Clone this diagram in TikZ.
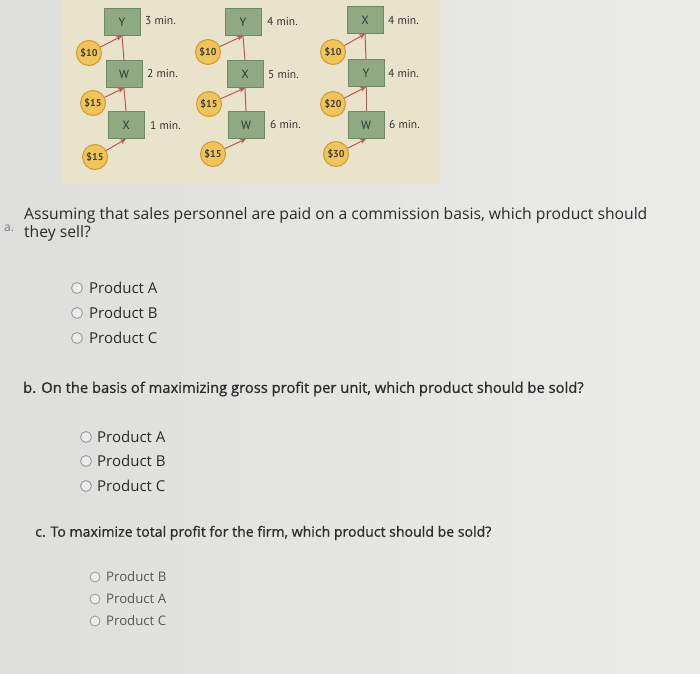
\documentclass[tikz,border=0pt]{standalone}
\usepackage{fontspec}
\setmainfont{Open Sans}
\newfontfamily\semib[FakeBold=0.8]{Open Sans}
\newfontfamily\diag{PT Sans}
\usetikzlibrary{arrows.meta}
\definecolor{bgA}{HTML}{DEDEDC}
\definecolor{bgC}{HTML}{EBEBEA}
\definecolor{panel}{HTML}{E9E3CB}
\definecolor{boxfill}{HTML}{8FAA82}
\definecolor{boxline}{HTML}{6E8A62}
\definecolor{coinfill}{HTML}{F0C458}
\definecolor{coinline}{HTML}{D09A2E}
\definecolor{flowcol}{HTML}{B5585A}
\definecolor{txt}{HTML}{2A2A2A}
\definecolor{alab}{HTML}{6A7890}
\tikzset{
 x=1pt,y=-1pt,
 opbox/.style={draw=boxline, fill=boxfill, line width=0.8pt, minimum width=36pt, minimum height=27pt, inner sep=0pt, font=\diag\fontsize{12}{12}\selectfont, text=black!80},
 cost/.style={circle, draw=coinline, fill=coinfill, line width=1pt, minimum size=25pt, inner sep=0pt, font=\diag\bfseries\fontsize{10}{10}\selectfont, text=black!75},
 timelab/.style={anchor=west, inner sep=0pt, font=\diag\fontsize{11.5}{12}\selectfont, text=black!80},
 flow/.style={draw=flowcol, line width=1pt},
 feed/.style={draw=flowcol, line width=1pt, -{Stealth[length=6pt,width=5pt]}},
 radio/.style={circle, draw=gray!75, line width=1pt, minimum size=11pt, inner sep=0pt, fill=white!85!gray},
 radios/.style={circle, draw=gray!75, line width=0.9pt, minimum size=10pt, inner sep=0pt, fill=white!85!gray},
 opt/.style={anchor=west, inner sep=0pt, text=txt, font=\fontsize{15}{15}\selectfont},
 opts/.style={anchor=west, inner sep=0pt, text=txt!80, font=\fontsize{13.2}{14}\selectfont},
 qtext/.style={anchor=west, inner sep=0pt, text=txt, font=\fontsize{15.7}{16}\selectfont},
}
\begin{document}
\begin{tikzpicture}
\useasboundingbox (0,0) rectangle (700,673);
\shade[left color=bgA, right color=bgC] (0,0) rectangle (700,673);
\fill[panel] (61,0) rectangle (440,184);

% Product A
\node[opbox] (aY) at (122,22) {Y};
\node[opbox] (aW) at (124,74) {W};
\node[opbox] (aX) at (126,125) {X};
\node[timelab] (aYt) at (145,20) {3 min.};
\node[timelab] (aWt) at (147,73) {2 min.};
\node[timelab] (aXt) at (150,125) {1 min.};
\node[cost] (ac1) at (89,53) {\$10};
\node[cost] (ac2) at (93,103) {\$15};
\node[cost] (ac3) at (95,157) {\$15};
\draw[flow] (aY.south) -- (aW.north);
\draw[flow] (aW.south) -- (aX.north);
\draw[feed] (ac1) -- (aY.south);
\draw[feed] (ac2) -- (aW.south);
\draw[feed] (ac3) -- (aX.south);

% Product B
\node[opbox] (bY) at (243,22) {Y};
\node[opbox] (bX) at (245,74) {X};
\node[opbox] (bW) at (246,125) {W};
\node[timelab] (bYt) at (267,21) {4 min.};
\node[timelab] (bXt) at (268,74) {5 min.};
\node[timelab] (bWt) at (270,124) {6 min.};
\node[cost] (bc1) at (208,52) {\$10};
\node[cost] (bc2) at (209,104) {\$15};
\node[cost] (bc3) at (213,154) {\$15};
\draw[flow] (bY.south) -- (bX.north);
\draw[flow] (bX.south) -- (bW.north);
\draw[feed] (bc1) -- (bY.south);
\draw[feed] (bc2) -- (bX.south);
\draw[feed] (bc3) -- (bW.south);

% Product C
\node[opbox] (cX) at (365,20) {X};
\node[opbox] (cY) at (366,73) {Y};
\node[opbox] (cW) at (366,125) {W};
\node[timelab] (cXt) at (388,20) {4 min.};
\node[timelab] (cYt) at (388,73) {4 min.};
\node[timelab] (cWt) at (389,124) {6 min.};
\node[cost] (cc1) at (333,52) {\$10};
\node[cost] (cc2) at (333,104) {\$20};
\node[cost] (cc3) at (336,154) {\$30};
\draw[flow] (cX.south) -- (cY.north);
\draw[flow] (cY.south) -- (cW.north);
\draw[feed] (cc1) -- (cX.south);
\draw[feed] (cc2) -- (cY.south);
\draw[feed] (cc3) -- (cW.south);

% Question a
\node[anchor=west, inner sep=0pt, text=alab, font=\fontsize{12}{12}\selectfont] (alabel) at (4,228) {a.};
\node[qtext] (qa1) at (24,215) {Assuming that sales personnel are paid on a commission basis, which product should};
\node[qtext] (qa2) at (24,233) {they sell?};
\node[radio] (ra1) at (77,288) {};
\node[radio] (ra2) at (77,313) {};
\node[radio] (ra3) at (77,338) {};
\node[opt] (oa1) at (89,288) {Product A};
\node[opt] (oa2) at (89,313) {Product B};
\node[opt] (oa3) at (89,338) {Product C};

% Question b
\node[qtext, font=\semib\fontsize{14.75}{15}\selectfont] (qb) at (23,389) {b. On the basis of maximizing gross profit per unit, which product should be sold?};
\node[radio] (rb1) at (86,437) {};
\node[radio] (rb2) at (86,461) {};
\node[radio] (rb3) at (86,486) {};
\node[opt] (ob1) at (97,437) {Product A};
\node[opt] (ob2) at (97,461) {Product B};
\node[opt] (ob3) at (97,486) {Product C};

% Question c
\node[qtext, font=\semib\fontsize{14.1}{14}\selectfont] (qc) at (35,533) {c. To maximize total profit for the firm, which product should be sold?};
\node[radios] (rc1) at (95,577) {};
\node[radios] (rc2) at (95,599) {};
\node[radios] (rc3) at (95,621) {};
\node[opts] (oc1) at (106,577) {Product B};
\node[opts] (oc2) at (106,599) {Product A};
\node[opts] (oc3) at (106,621) {Product C};
\end{tikzpicture}
\end{document}
